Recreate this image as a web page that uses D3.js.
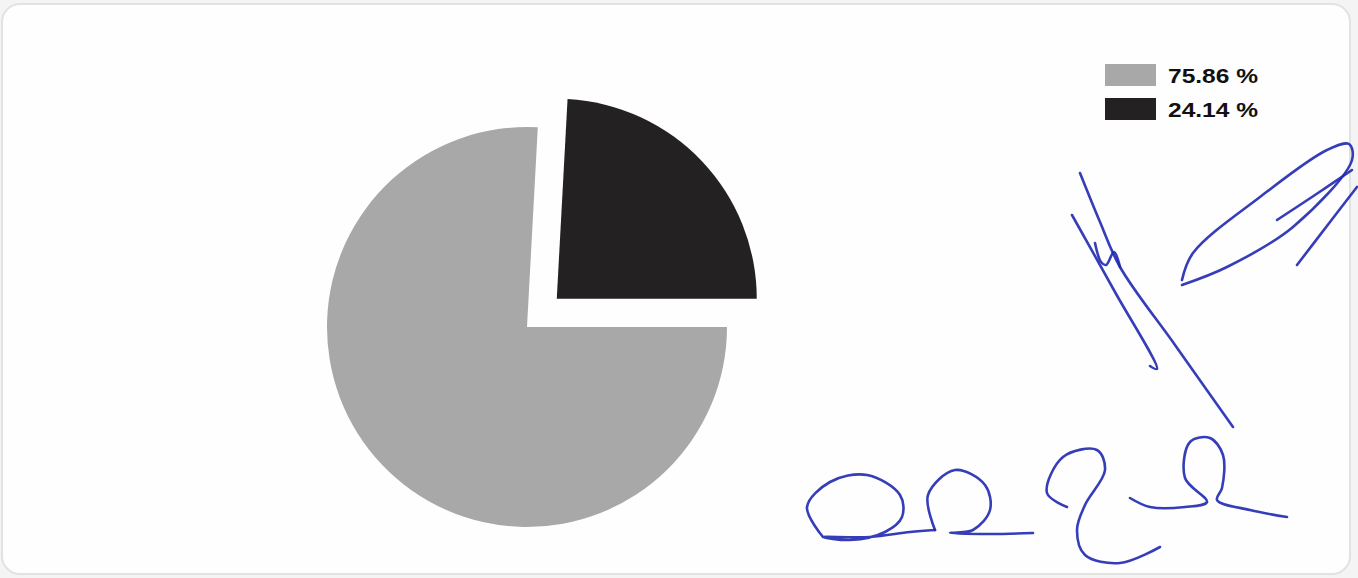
<!DOCTYPE html>
<html>
<head>
<meta charset="utf-8">
<script src="https://cdn.jsdelivr.net/npm/d3@7"></script>
<style>
  html, body { margin: 0; padding: 0; background: #f4f4f4; }
  svg { display: block; }
</style>
</head>
<body>
<svg id="chart"></svg>
<script>
// chart data
const labels = ["75.86 %", "24.14 %"];
const values = [75.86, 24.14];
const colours = ["#a8a8a8", "#232121"];
const exploded = [false, true];

const width = 1358, height = 578;
const cx = 527, cy = 327, radius = 200, explode = 41;

const svg = d3.select("#chart")
    .attr("width", width)
    .attr("height", height);

// scanned card background
svg.append("rect")
    .attr("x", 2).attr("y", 4)
    .attr("width", 1348).attr("height", 570)
    .attr("rx", 18)
    .attr("fill", "#fefefe")
    .attr("stroke", "#e2e2e2")
    .attr("stroke-width", 2);

// pie: the large slice starts at 3 o'clock and runs clockwise
const pie = d3.pie()
    .sort(null)
    .value(d => d)
    .startAngle(Math.PI / 2)
    .endAngle(Math.PI / 2 + 2 * Math.PI);

const arc = d3.arc().innerRadius(0).outerRadius(radius);
const arcs = pie(values);

const g = svg.append("g").attr("transform", `translate(${cx}, ${cy})`);

g.selectAll("path.slice")
    .data(arcs)
    .enter()
    .append("path")
    .attr("class", "slice")
    .attr("d", arc)
    .attr("fill", (_, i) => colours[i])
    .attr("transform", (d, i) => {
        if (!exploded[i]) return null;
        const mid = (d.startAngle + d.endAngle) / 2;
        return `translate(${explode * Math.sin(mid)}, ${-explode * Math.cos(mid)})`;
    });

// legend
const legend = svg.append("g").attr("transform", "translate(1105, 64)");
const item = legend.selectAll("g")
    .data(labels)
    .enter()
    .append("g")
    .attr("transform", (_, i) => `translate(0, ${i * 34})`);

item.append("rect")
    .attr("width", 51)
    .attr("height", 22)
    .attr("fill", (_, i) => colours[i]);

item.append("text")
    .attr("x", 63)
    .attr("y", 19)
    .attr("font-family", "Liberation Sans, Arial, sans-serif")
    .attr("font-weight", "bold")
    .attr("font-size", 21)
    .attr("textLength", 90)
    .attr("lengthAdjust", "spacingAndGlyphs")
    .attr("fill", "#111")
    .text(d => d);

// handwritten signatures on the scan (decoration, not data)
const strokes = [
    [[1080,173],[1100,222],[1120,267],[1175,345],[1233,427]],
    [[1072,215],[1115,292],[1157,369],[1150,366]],
    [[1095,243],[1101,262],[1106,265],[1114,252],[1120,267]],
    [[1182,280],[1193,253],[1260,197],[1327,150],[1349,144],[1352,160],[1293,227],[1227,267],[1182,285]],
    [[1277,220],[1315,195],[1352,170]],
    [[1297,265],[1330,222],[1357,187]],
    [[823,537],[807,507],[830,482],[867,475],[900,495],[902,517],[885,532],[850,540],[823,537],[870,537],[910,532],[935,530]],
    [[935,530],[928,495],[955,470],[985,485],[990,510],[973,530],[950,533],[990,534],[1033,533]],
    [[1067,507],[1047,493],[1063,457],[1097,450],[1105,470],[1085,505],[1077,530],[1085,555],[1120,563],[1160,547]],
    [[1130,498],[1150,507],[1185,507],[1207,502],[1185,478],[1190,442],[1210,438],[1223,455],[1222,488],[1217,500],[1250,510],[1287,517]]
];

const ink = d3.line().curve(d3.curveCatmullRom.alpha(0.5));
svg.append("g")
    .selectAll("path")
    .data(strokes)
    .enter()
    .append("path")
    .attr("d", ink)
    .attr("fill", "none")
    .attr("stroke", "#2028b0")
    .attr("stroke-width", 2.6)
    .attr("stroke-linecap", "round")
    .attr("stroke-linejoin", "round")
    .attr("opacity", 0.9);
</script>
</body>
</html>
